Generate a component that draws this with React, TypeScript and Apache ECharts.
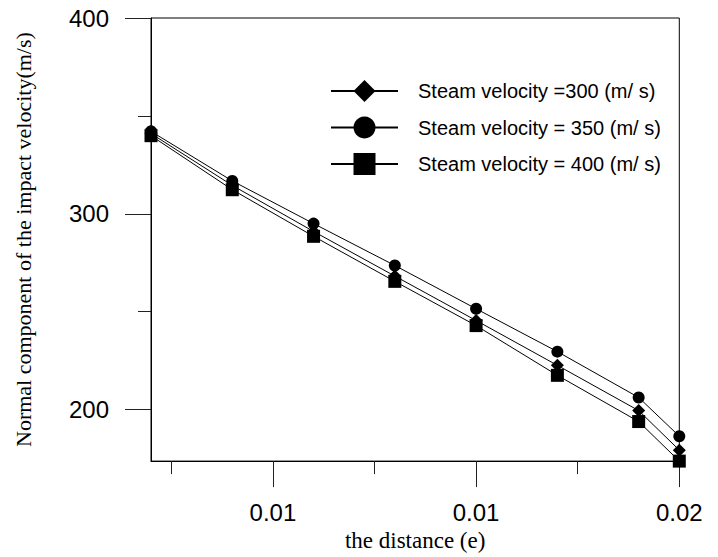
import React, { useEffect, useRef } from "react";
import * as echarts from "echarts";

const xValues = [0.0056, 0.0072, 0.0088, 0.0104, 0.012, 0.0136, 0.0152, 0.016];
const v300 = [341, 314.5, 291, 268.2, 245.5, 222.6, 199.5, 179.3];
const v350 = [342.1, 316.8, 295, 273.6, 251.5, 229.6, 206.2, 186.4];
const v400 = [339.9, 312.3, 288.5, 265.5, 242.9, 217.5, 193.9, 173.7];

const seriesNames = [
  "Steam velocity =300 (m/ s)",
  "Steam velocity = 350 (m/ s)",
  "Steam velocity = 400 (m/ s)",
];

const xMajorTicks = [0.008, 0.012, 0.016];
const xMinorTicks = [0.006, 0.01, 0.014];
const yMajorTicks = [200, 300, 400];
const yMinorTicks = [250, 350];

const X_MIN = 0.0056;
const X_MAX = 0.016;
const Y_MIN = 173.7;
const Y_MAX = 400;

const SANS = 'Arial, "Liberation Sans", sans-serif';
const SERIF = '"Times New Roman", "Liberation Serif", serif';

export default function App() {
  const ref = useRef<HTMLDivElement>(null);

  useEffect(() => {
    if (!ref.current) return;
    const chart = echarts.init(ref.current, null, { renderer: "svg" });

    const pairs = (ys: number[]) => xValues.map((x, i) => [x, ys[i]]);

    const tickStyle = { color: "#222", width: 1 };

    const option: any = {
      animation: false,
      backgroundColor: "#fff",
      grid: {
        left: 151,
        top: 18,
        right: 38.7,
        bottom: 92,
        show: true,
        borderColor: "#000",
        borderWidth: 1,
        backgroundColor: "transparent",
      },
      legend: {
        orient: "vertical",
        left: 330,
        top: 79,
        padding: 0,
        itemWidth: 67,
        itemHeight: 27.5,
        itemGap: 12.5,
        selectedMode: false,
        data: seriesNames,
        textStyle: {
          fontFamily: SANS,
          fontSize: 20,
          lineHeight: 24,
          color: "#000",
          padding: [0, 0, 0, 15],
        },
      },
      xAxis: [
        {
          type: "value",
          min: X_MIN,
          max: X_MAX,
          position: "bottom",
          name: "the distance (e)",
          nameLocation: "middle",
          nameGap: 67,
          nameTextStyle: { fontFamily: SERIF, fontSize: 23, color: "#000" },
          axisLine: { show: true, onZero: false, lineStyle: { color: "#000", width: 1 } },
          axisTick: { show: true, inside: false, length: 26, lineStyle: tickStyle, customValues: xMajorTicks },
          axisLabel: {
            show: true,
            margin: 39,
            fontFamily: SANS,
            fontSize: 24,
            color: "#000",
            customValues: xMajorTicks,
            formatter: (v: number) => v.toFixed(2),
          },
          splitLine: { show: false },
        },
        {
          type: "value",
          min: X_MIN,
          max: X_MAX,
          position: "bottom",
          axisLine: { show: false, onZero: false },
          axisTick: { show: true, inside: false, length: 13, lineStyle: tickStyle, customValues: xMinorTicks },
          axisLabel: { show: false },
          splitLine: { show: false },
        },
      ],
      yAxis: [
        {
          type: "value",
          min: Y_MIN,
          max: Y_MAX,
          position: "left",
          name: "Normal component of the impact velocity(m/s)",
          nameLocation: "middle",
          nameGap: 117,
          nameTextStyle: { fontFamily: SERIF, fontSize: 22, color: "#000" },
          axisLine: { show: true, onZero: false, lineStyle: { color: "#000", width: 1 } },
          axisTick: { show: true, inside: false, length: 26, lineStyle: tickStyle, customValues: yMajorTicks },
          axisLabel: {
            show: true,
            margin: 42,
            fontFamily: SANS,
            fontSize: 24,
            color: "#000",
            customValues: yMajorTicks,
          },
          splitLine: { show: false },
        },
        {
          type: "value",
          min: Y_MIN,
          max: Y_MAX,
          position: "left",
          axisLine: { show: false, onZero: false },
          axisTick: { show: true, inside: false, length: 13, lineStyle: tickStyle, customValues: yMinorTicks },
          axisLabel: { show: false },
          splitLine: { show: false },
        },
      ],
      series: [
        {
          name: seriesNames[0],
          type: "line",
          data: pairs(v300),
          symbol: "diamond",
          symbolSize: 13,
          clip: false,
          itemStyle: { color: "#000" },
          lineStyle: { color: "#000", width: 1 },
          z: 2,
        },
        {
          name: seriesNames[1],
          type: "line",
          data: pairs(v350),
          symbol: "circle",
          symbolSize: 12,
          clip: false,
          itemStyle: { color: "#000" },
          lineStyle: { color: "#000", width: 1 },
          z: 2,
        },
        {
          name: seriesNames[2],
          type: "line",
          data: pairs(v400),
          symbol: "rect",
          symbolSize: 13,
          clip: false,
          itemStyle: { color: "#000" },
          lineStyle: { color: "#000", width: 1 },
          z: 3,
        },
      ],
    };

    chart.setOption(option);
    return () => chart.dispose();
  }, []);

  return (
    <div
      ref={ref}
      style={{ position: "fixed", left: 0, top: 0, width: 718, height: 557, background: "#fff" }}
    />
  );
}
